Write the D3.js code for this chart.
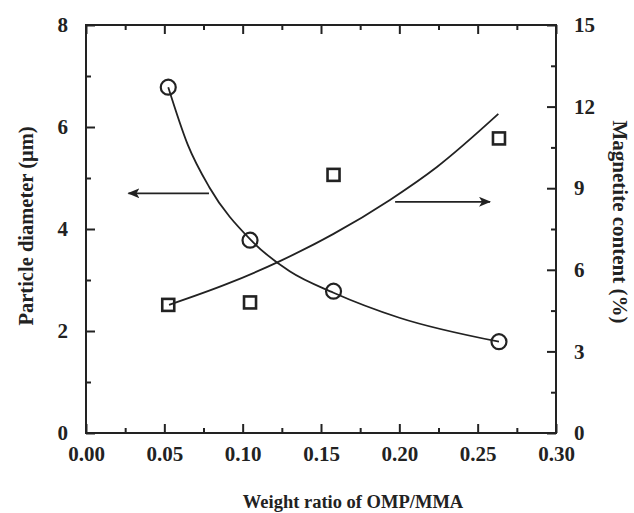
<!DOCTYPE html>
<html>
<head>
<meta charset="utf-8">
<script src="https://cdn.jsdelivr.net/npm/d3@7"></script>
<style>
body { margin: 0; background: #fff; }
text { font-family: "Liberation Serif", "Times New Roman", serif; font-weight: bold; fill: #222; }
</style>
</head>
<body>
<div id="chart"></div>
<script>
// measured points
var ratios = [0.0525, 0.1047, 0.158, 0.2636];
var diameters = [6.78, 3.78, 2.78, 1.79];
var magnetite = [4.71, 4.80, 9.49, 10.83];

// fitted curves
var diamFitX = [0.0525, 0.065, 0.0787, 0.1047, 0.13, 0.158, 0.20, 0.2636];
var diamFitY = [6.78, 5.65, 4.82, 3.80, 3.17, 2.75, 2.26, 1.79];
var magFitX = [0.053, 0.09, 0.1238, 0.158, 0.194, 0.224, 0.2632];
var magFitY = [4.71, 5.48, 6.32, 7.32, 8.57, 9.78, 11.73];

var xTicks = [0, 0.05, 0.10, 0.15, 0.20, 0.25, 0.30];
var leftTicks = [0, 2, 4, 6, 8];
var rightTicks = [0, 3, 6, 9, 12, 15];

var margin = { top: 25, right: 78, bottom: 80, left: 86 };
var W = 634, H = 513;
var width = W - margin.left - margin.right;
var height = H - margin.top - margin.bottom;

var svg = d3.select("#chart").append("svg")
    .attr("width", W)
    .attr("height", H);
var g = svg.append("g")
    .attr("transform", "translate(" + margin.left + "," + margin.top + ")");

var x = d3.scaleLinear().domain([0, 0.30]).range([0, width]);
var yL = d3.scaleLinear().domain([0, 8]).range([height, 0]);
var yR = d3.scaleLinear().domain([0, 15]).range([height, 0]);

var ink = "#222";

function styleAxis(sel) {
    sel.select(".domain").remove();
    sel.selectAll("line").attr("stroke", ink).attr("stroke-width", 2);
    sel.selectAll("text").style("font-size", "21px");
}

// minor ticks
var xMinor = [0.025, 0.075, 0.125, 0.175, 0.225, 0.275];
var lMinor = [1, 3, 5, 7];
var rMinor = [1.5, 4.5, 7.5, 10.5, 13.5];

g.append("g").attr("transform", "translate(0," + height + ")")
    .call(d3.axisBottom(x).tickValues(xMinor).tickSize(-5).tickFormat(""))
    .call(styleAxis);
g.append("g").attr("transform", "translate(0," + height + ")")
    .call(d3.axisBottom(x).tickValues(xTicks).tickSize(-9).tickPadding(13).tickFormat(d3.format(".2f")))
    .call(styleAxis);
g.append("g")
    .call(d3.axisTop(x).tickValues(xMinor).tickSize(-5).tickFormat(""))
    .call(styleAxis);
g.append("g")
    .call(d3.axisTop(x).tickValues(xTicks).tickSize(-9).tickFormat(""))
    .call(styleAxis);

g.append("g")
    .call(d3.axisLeft(yL).tickValues(lMinor).tickSize(-5).tickFormat(""))
    .call(styleAxis);
g.append("g")
    .call(d3.axisLeft(yL).tickValues(leftTicks).tickSize(-9).tickPadding(18).tickFormat(d3.format("d")))
    .call(styleAxis);
g.append("g").attr("transform", "translate(" + width + ",0)")
    .call(d3.axisRight(yR).tickValues(rMinor).tickSize(-5).tickFormat(""))
    .call(styleAxis);
g.append("g").attr("transform", "translate(" + width + ",0)")
    .call(d3.axisRight(yR).tickValues(rightTicks).tickSize(-9).tickPadding(18).tickFormat(d3.format("d")))
    .call(styleAxis);

// frame
g.append("rect")
    .attr("width", width).attr("height", height)
    .attr("fill", "none").attr("stroke", ink).attr("stroke-width", 2);

// fit curves
var diamLine = d3.line()
    .x(function (d, i) { return x(diamFitX[i]); })
    .y(function (d) { return yL(d); })
    .curve(d3.curveMonotoneX);
var magLine = d3.line()
    .x(function (d, i) { return x(magFitX[i]); })
    .y(function (d) { return yR(d); })
    .curve(d3.curveMonotoneX);

g.append("path").attr("d", diamLine(diamFitY))
    .attr("fill", "none").attr("stroke", ink).attr("stroke-width", 1.8);
g.append("path").attr("d", magLine(magFitY))
    .attr("fill", "none").attr("stroke", ink).attr("stroke-width", 1.8);

// markers
g.selectAll(".circ").data(diameters).enter().append("circle")
    .attr("cx", function (d, i) { return x(ratios[i]); })
    .attr("cy", function (d) { return yL(d); })
    .attr("r", 7.5)
    .attr("fill", "none").attr("stroke", ink).attr("stroke-width", 2.2);

var s = 12;
g.selectAll(".sq").data(magnetite).enter().append("rect")
    .attr("x", function (d, i) { return x(ratios[i]) - s / 2; })
    .attr("y", function (d) { return yR(d) - s / 2; })
    .attr("width", s).attr("height", s)
    .attr("fill", "none").attr("stroke", ink).attr("stroke-width", 2.6);

// arrows
svg.append("defs").append("marker")
    .attr("id", "head")
    .attr("viewBox", "0 0 12 10")
    .attr("refX", 11).attr("refY", 5)
    .attr("markerWidth", 12).attr("markerHeight", 10)
    .attr("markerUnits", "userSpaceOnUse")
    .attr("orient", "auto")
    .append("path")
    .attr("d", "M0,0 L12,5 L0,10 L3,5 Z")
    .attr("fill", ink);

g.append("line")
    .attr("x1", x(0.0785)).attr("x2", x(0.0271))
    .attr("y1", yL(4.70)).attr("y2", yL(4.70))
    .attr("stroke", ink).attr("stroke-width", 1.8)
    .attr("marker-end", "url(#head)");
g.append("line")
    .attr("x1", x(0.1973)).attr("x2", x(0.2579))
    .attr("y1", yR(8.50)).attr("y2", yR(8.50))
    .attr("stroke", ink).attr("stroke-width", 1.8)
    .attr("marker-end", "url(#head)");

// axis titles
svg.append("text")
    .attr("x", 353).attr("y", 508)
    .attr("text-anchor", "middle")
    .style("font-size", "18.5px")
    .text("Weight ratio of OMP/MMA");
svg.append("text")
    .attr("transform", "translate(33,226) rotate(-90)")
    .attr("text-anchor", "middle")
    .style("font-size", "20.5px")
    .text("Particle diameter (μm)");
svg.append("text")
    .attr("transform", "translate(613,222) rotate(90)")
    .attr("text-anchor", "middle")
    .style("font-size", "21px")
    .text("Magnetite content (%)");
</script>
</body>
</html>
